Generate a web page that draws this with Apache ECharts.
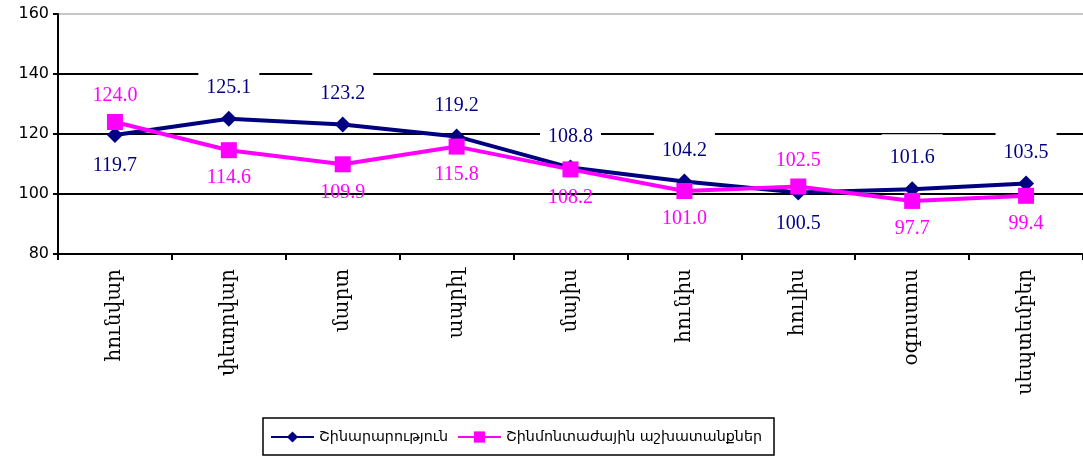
<!DOCTYPE html>
<html><head><meta charset="utf-8">
<script src="https://cdn.jsdelivr.net/npm/echarts@6/dist/echarts.min.js"></script>
<style>html,body{margin:0;padding:0;background:#fff}#c{width:1083px;height:456px}</style>
</head><body><div id="c"></div>
<script>
const categories = ['հունվար','փետրվար','մարտ','ապրիլ','մայիս','հունիս','հուլիս','օգոստոս','սեպտեմբեր'];
const seriesNames = ['Շինարարություն','Շինմոնտաժային աշխատանքներ'];
const construction = [119.7,125.1,123.2,119.2,108.8,104.2,100.5,101.6,103.5];
const installation = [124.0,114.6,109.9,115.8,108.2,101.0,102.5,97.7,99.4];
const yTicks = [80,100,120,140,160];

const LABEL_FONT = 'Liberation Serif';
function items(vals, other, color, boxed){
  return vals.map((v,i)=>{
    const above = v >= other[i];
    return {
      value: v,
      label: {
        show: true,
        position: above ? 'top' : 'bottom',
        distance: above ? (boxed ? 9 : 4) : (boxed ? 9 : 6),
        color: color,
        fontFamily: LABEL_FONT,
        fontSize: 20,
        formatter: p => p.value.toFixed(1),
        backgroundColor: boxed ? '#fff' : 'transparent',
        padding: boxed ? (above ? [14,8,4,8] : [4,8,4,8]) : [4,4,4,4]
      }
    };
  });
}
const chart = echarts.init(document.getElementById('c'));
chart.setOption({
  animation:false,
  grid:{left:58,right:0,top:14,bottom:202,containLabel:false},
  xAxis:{type:'category',data:categories,boundaryGap:true,
    axisLine:{lineStyle:{color:'#000',width:2}},
    axisTick:{show:true,length:6,lineStyle:{color:'#000',width:2},alignWithLabel:false},
    axisLabel:{rotate:90,margin:15,color:'#000',fontFamily:'DejaVu Serif',fontSize:20}
  },
  yAxis:{type:'value',min:yTicks[0],max:yTicks[yTicks.length-1],interval:20,
    axisLine:{show:true,lineStyle:{color:'#000',width:2}},
    axisTick:{show:true,length:5,lineStyle:{color:'#000',width:2}},
    axisLabel:{color:'#000',fontFamily:'DejaVu Sans',fontSize:16,margin:9},
    splitLine:{show:true,lineStyle:{color:['#000','#000','#000','#000','#c8c8c8'],width:2}}
  },
  legend:{left:263,bottom:1,orient:'horizontal',
    borderColor:'#000',borderWidth:1.5,padding:[12,12,11,7],itemGap:9,
    itemWidth:43,itemHeight:14,
    textStyle:{color:'#000',fontFamily:'DejaVu Sans',fontSize:14.3},
    data:seriesNames},
  series:[
    {name:seriesNames[0],type:'line',data:items(construction,installation,'#000080',true),
     symbol:'diamond',symbolSize:16,lineStyle:{color:'#000080',width:4},
     itemStyle:{color:'#000080'},z:3},
    {name:seriesNames[1],type:'line',data:items(installation,construction,'#FF00FF',false),
     symbol:'rect',symbolSize:16,lineStyle:{color:'#FF00FF',width:4},
     itemStyle:{color:'#FF00FF'},z:4}
  ]
});
</script></body></html>
